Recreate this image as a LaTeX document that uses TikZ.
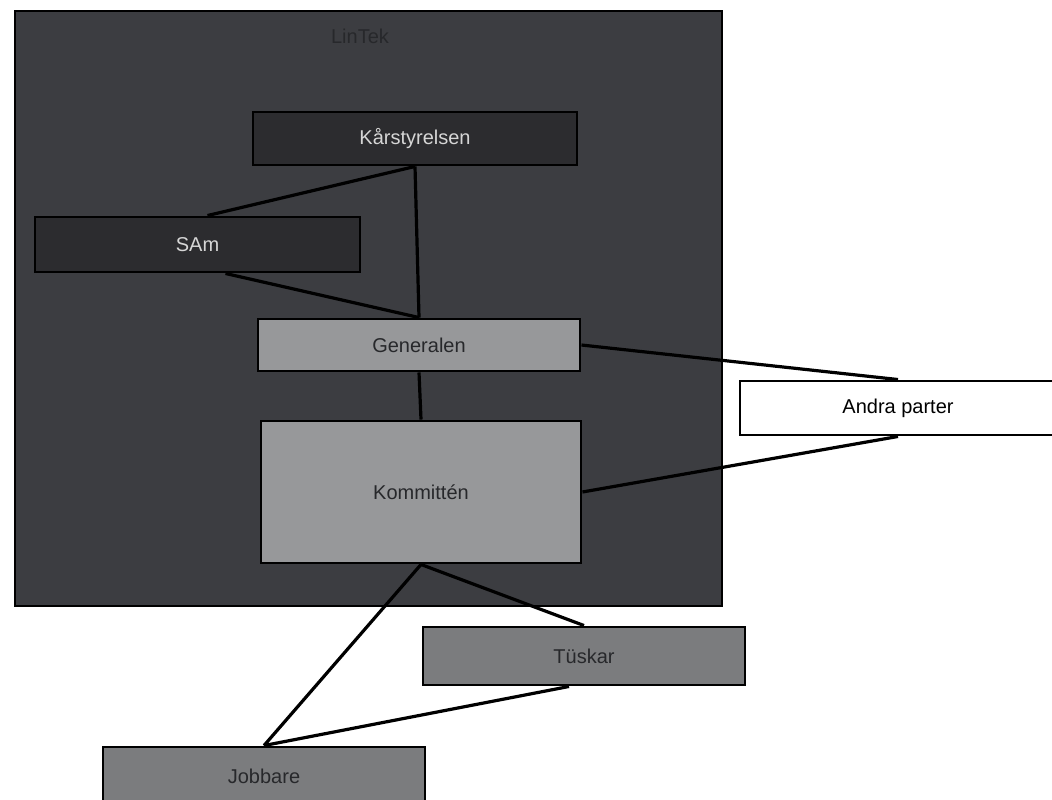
\documentclass[tikz,border=0pt]{standalone}
\usepackage{fontspec}
\setmainfont{Liberation Sans}
\usetikzlibrary{calc}
\definecolor{lintekgray}{HTML}{3C3D41}
\definecolor{darkfill}{HTML}{2C2C2F}
\definecolor{lightfill}{HTML}{97989A}
\definecolor{midfill}{HTML}{7B7C7E}
\definecolor{titlegray}{HTML}{27282B}
\definecolor{palegray}{HTML}{D6D6D6}
\begin{document}
\begin{tikzpicture}[x=0.75pt,y=-0.75pt,
	box/.style={draw=black,line width=2.2pt,inner sep=0pt,minimum width=241.5pt,minimum height=40.5pt,font=\fontsize{15}{18}\selectfont},
	darkbox/.style={box,fill=darkfill,text=palegray},
	lightbox/.style={box,fill=lightfill,text=titlegray},
	midbox/.style={box,fill=midfill,text=titlegray},
	link/.style={line width=2.4pt,black}]
\useasboundingbox (0,0) rectangle (1052,799);
\fill[white] (0,0) rectangle (1052,799);
\node[draw=black,line width=1.5pt,fill=lintekgray,minimum width=530.25pt,minimum height=446.25pt] (lintek) at (368.5,308.5) {};
\node[font=\fontsize{15}{18}\selectfont,text=titlegray] (lintektitle) at (360,36) {LinTek};
\node[darkbox,minimum width=243pt,minimum height=39.75pt] (karst) at (415,138.5) {Kårstyrelsen};
\node[darkbox,minimum width=243.75pt,minimum height=41.25pt] (sam) at (197.5,244.5) {SAm};
\node[lightbox,minimum height=39pt] (gen) at (419,345) {Generalen};
\node[lightbox,minimum width=240pt,minimum height=106.5pt] (komm) at (421,492) {Kommittén};
\node[box,fill=white,minimum width=237pt] (andra) at (898,408) {Andra parter};
\node[midbox,minimum height=43.5pt] (tuskar) at (584,656) {Tüskar};
\node[midbox,minimum height=43.5pt] (jobb) at (264,776) {Jobbare};
\draw[link] (karst.south) -- (gen.north);
\draw[link] (gen.south) -- (komm.north);
\draw[link] (karst.south) -- ($(sam.north)+(10,0)$);
\draw[link] ($(sam.south)+(28,0)$) -- (gen.north);
\draw[link] (gen.east) -- (andra.north);
\draw[link] (komm.east) -- (andra.south);
\draw[link] (komm.south) -- (jobb.north);
\draw[link] (komm.south) -- (tuskar.north);
\draw[link] ($(tuskar.south)+(-15,0)$) -- (jobb.north);
\end{tikzpicture}
\end{document}
